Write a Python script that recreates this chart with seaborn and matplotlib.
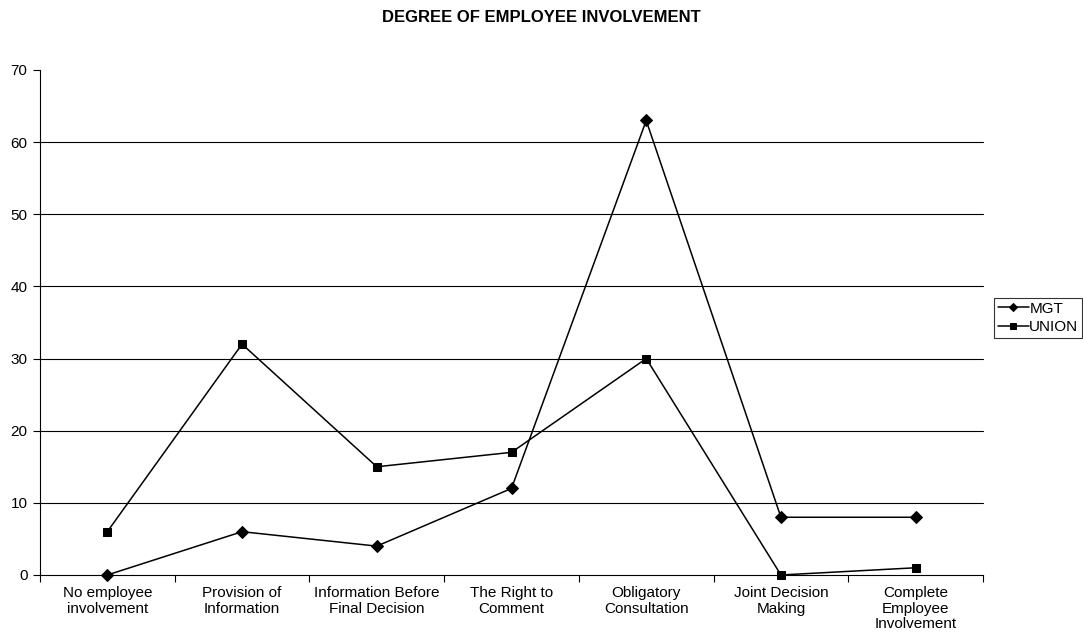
import pandas as pd
import matplotlib.pyplot as plt
import seaborn as sns

categories = ['No employee\ninvolvement', 'Provision of\nInformation',
              'Information Before\nFinal Decision', 'The Right to\nComment',
              'Obligatory\nConsultation', 'Joint Decision\nMaking',
              'Complete\nEmployee\nInvolvement']
mgt = [0, 6, 4, 12, 63, 8, 8]
union = [6, 32, 15, 17, 30, 0, 1]

df = pd.DataFrame({
    'pos': list(range(len(categories))) * 2,
    'value': mgt + union,
    'series': ['MGT'] * len(mgt) + ['UNION'] * len(union),
})

sns.set_style('white', {'text.color': 'black', 'xtick.color': 'black', 'ytick.color': 'black'})
plt.rcParams['font.family'] = ['Liberation Sans', 'DejaVu Sans']

fig = plt.figure(figsize=(10.83, 6.41), dpi=100)
ax = fig.add_axes([0.0369, 0.103, 0.8708, 0.7878])

# gridlines (no line at the top value, like the original)
for y in range(10, 70, 10):
    ax.axhline(y, color='black', lw=0.8, zorder=0)

sns.lineplot(data=df, x='pos', y='value', hue='series', style='series',
             palette={'MGT': 'black', 'UNION': 'black'},
             markers={'MGT': 'D', 'UNION': 's'}, dashes=False,
             markersize=6, linewidth=1.1, markeredgecolor='black', ax=ax)
for ln in ax.lines:
    ln.set_clip_on(False)

ax.set_xlim(-0.5, 6.5)
ax.set_ylim(0, 70)
ax.set_yticks(range(0, 71, 10))
# ticks between categories, labels centred on them
ax.set_xticks([i - 0.5 for i in range(8)], minor=False)
ax.set_xticklabels([])
ax.set_xticks(range(7), minor=True)
ax.set_xticklabels(categories, minor=True, fontsize=11, linespacing=1.15)
ax.tick_params(axis='x', which='minor', length=0, pad=8, labelcolor='black')
ax.tick_params(axis='x', which='major', direction='out', length=5, width=0.8, color='black', bottom=True)
ax.tick_params(axis='y', direction='out', length=5, width=0.8, color='black', left=True,
               labelsize=11, pad=4, labelcolor='black')
for s in ['top', 'right']:
    ax.spines[s].set_visible(False)
for s in ['left', 'bottom']:
    ax.spines[s].set_color('black')
    ax.spines[s].set_linewidth(0.8)
ax.set_xlabel('')
ax.set_ylabel('')

fig.suptitle('DEGREE OF EMPLOYEE INVOLVEMENT', fontsize=12, fontweight='bold', y=0.985, color='black')

leg = ax.legend(loc='center left', bbox_to_anchor=(0.918, 0.504), bbox_transform=fig.transFigure,
                frameon=True, fancybox=False, fontsize=11, handlelength=2.0, markerscale=0.75,
                handletextpad=0.05, borderpad=0.25, borderaxespad=0, labelspacing=0.3)
leg.get_frame().set_edgecolor('black')
leg.get_frame().set_linewidth(0.8)
for t in leg.get_texts():
    t.set_color('black')

fig.savefig('out.png', dpi=100)
